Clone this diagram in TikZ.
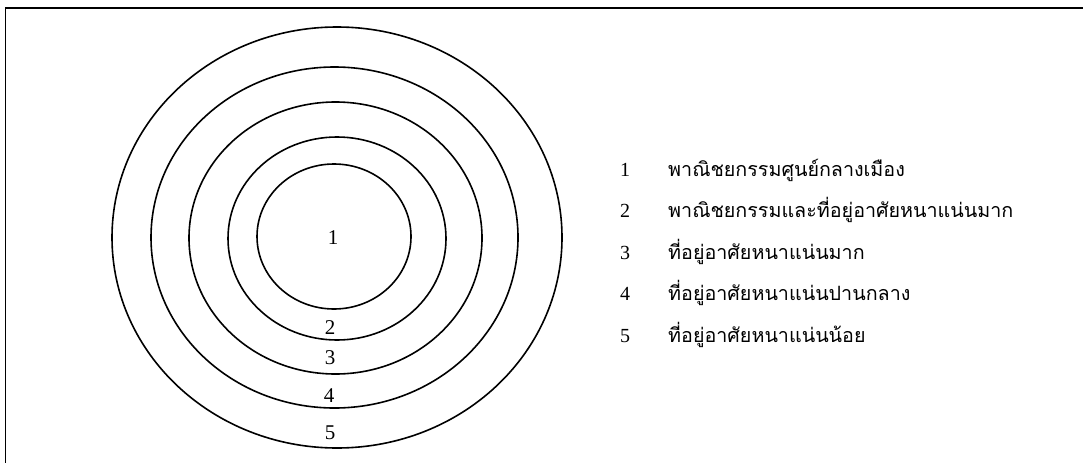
\documentclass[tikz,border=0pt]{standalone}
\usepackage{fontspec}
\setmainfont{Liberation Serif}
\newfontfamily\thaifont[Script=Thai]{Loma}
\begin{document}
\begin{tikzpicture}[x=1pt,y=-1pt,
  ring/.style={line width=1.6pt},
  frameline/.style={line width=1.7pt},
  ringnum/.style={font=\fontsize{21}{24}\selectfont, inner sep=0pt},
  legnum/.style={font=\fontsize{20}{24}\selectfont, inner sep=0pt, anchor=base},
  legtext/.style={font=\thaifont\fontsize{19.7}{24}\selectfont, inner sep=0pt, anchor=base west}]
\useasboundingbox (0,0) rectangle (1083,463);
% frame (top and left)
\draw[frameline] (1083,8) -- (5.5,8) -- (5.5,463);
% rings
\draw[ring] (337,237.5) ellipse [x radius=225, y radius=210.5];
\draw[ring] (334.5,237.5) ellipse [x radius=183.5, y radius=170.5];
\draw[ring] (335.5,238) ellipse [x radius=146.5, y radius=136];
\draw[ring] (337,238.5) ellipse [x radius=109, y radius=101.5];
\draw[ring] (334,236.5) ellipse [x radius=77, y radius=72.5];
% ring labels
\node[ringnum] (r1) at (333,238) {1};
\node[ringnum] (r2) at (330,328) {2};
\node[ringnum] (r3) at (330,358) {3};
\node[ringnum] (r4) at (329,396) {4};
\node[ringnum] (r5) at (330,433) {5};
% legend
\node[legnum] (n1) at (625,176) {1};
\node[legnum] (n2) at (625,217.5) {2};
\node[legnum] (n3) at (625,259) {3};
\node[legnum] (n4) at (625,300.5) {4};
\node[legnum] (n5) at (625,342) {5};
\node[legtext] (t1) at (668,176) {พาณิชยกรรมศูนย์กลางเมือง};
\node[legtext] (t2) at (668,217.5) {พาณิชยกรรมและที่อยู่อาศัยหนาแน่นมาก};
\node[legtext] (t3) at (668,259) {ที่อยู่อาศัยหนาแน่นมาก};
\node[legtext] (t4) at (668,300.5) {ที่อยู่อาศัยหนาแน่นปานกลาง};
\node[legtext] (t5) at (668,342) {ที่อยู่อาศัยหนาแน่นน้อย};
\end{tikzpicture}
\end{document}
